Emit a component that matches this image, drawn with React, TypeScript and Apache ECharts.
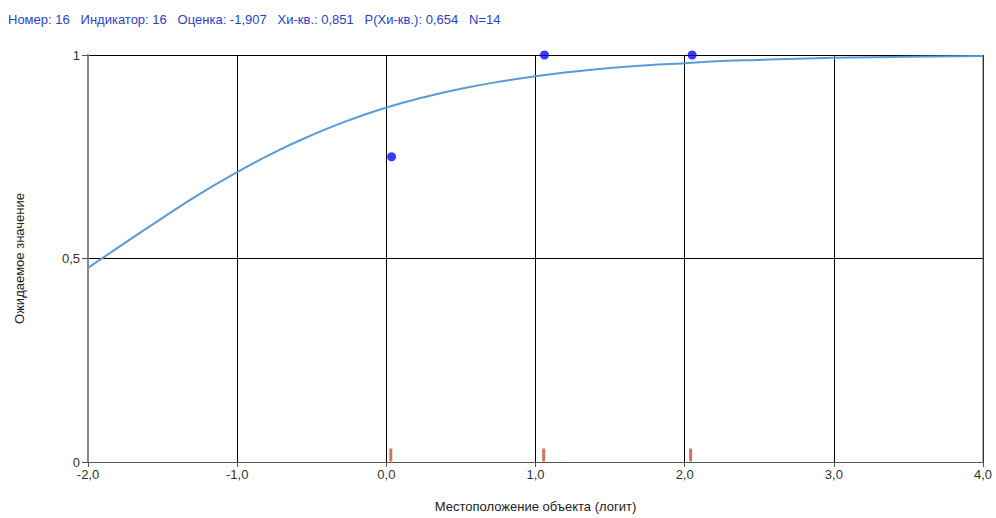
import React, { useEffect, useRef } from "react";
import * as echarts from "echarts";

const curveX = [-2, -1.75, -1.5, -1.25, -1, -0.75, -0.5, -0.25, 0, 0.25, 0.5, 0.75, 1, 1.25, 1.5, 1.75, 2, 2.25, 2.5, 2.75, 3, 3.5, 4];
const curveY = [0.477, 0.539, 0.6, 0.659, 0.712, 0.761, 0.803, 0.84, 0.871, 0.896, 0.917, 0.934, 0.948, 0.959, 0.968, 0.975, 0.98, 0.985, 0.988, 0.991, 0.993, 0.9955, 0.9973];
const obsX = [0.035, 1.06, 2.05];
const obsY = [0.75, 1.0, 1.0];
const tickMarksX = [0.03, 1.055, 2.04];
const titleText = "Номер: 16   Индикатор: 16   Оценка: -1,907   Хи-кв.: 0,851   P(Хи-кв.): 0,654   N=14";

export default function App() {
  const ref = useRef<HTMLDivElement>(null);
  useEffect(() => {
    const chart = echarts.init(ref.current!, null, { renderer: "svg" });
    const font = "Liberation Sans, Arial, sans-serif";
    chart.setOption({
      animation: false,
      textStyle: { fontFamily: font },
      title: {
        text: titleText,
        left: 3,
        top: 8,
        textStyle: { fontSize: 13, fontWeight: "normal", color: "#2b3fc4", fontFamily: font },
      },
      grid: { left: 88, right: 13, top: 55, bottom: 56 },
      xAxis: {
        type: "value",
        min: -2,
        max: 4,
        interval: 1,
        name: "Местоположение объекта (логит)",
        nameLocation: "middle",
        nameGap: 38,
        nameTextStyle: { fontSize: 13, color: "#222", fontFamily: font },
        axisLine: { show: true, onZero: false, lineStyle: { color: "#555", width: 1 } },
        axisTick: { show: true, length: 5, lineStyle: { color: "#555" } },
        axisLabel: {
          fontSize: 13,
          color: "#333",
          margin: 6,
          formatter: (v: number) => v.toFixed(1).replace(".", ","),
        },
        splitLine: { show: true, lineStyle: { color: "#000", width: 1 } },
      },
      yAxis: {
        type: "value",
        min: 0,
        max: 1,
        interval: 0.5,
        name: "Ожидаемое значение",
        nameLocation: "middle",
        nameGap: 62,
        nameTextStyle: { fontSize: 13, color: "#222", fontFamily: font },
        axisLine: { show: true, onZero: false, lineStyle: { color: "#888", width: 2 } },
        axisTick: { show: true, length: 6, lineStyle: { color: "#555" } },
        axisLabel: {
          fontSize: 13,
          color: "#333",
          margin: 8,
          formatter: (v: number) => (v === 0 || v === 1 ? String(v) : String(v).replace(".", ",")),
        },
        splitLine: { show: true, lineStyle: { color: "#000", width: 1 } },
      },
      series: [
        {
          type: "line",
          data: curveX.map((x, i) => [x, curveY[i]]),
          smooth: true,
          showSymbol: false,
          lineStyle: { color: "#5b9bd5", width: 2 },
          z: 3,
        },
        {
          type: "scatter",
          data: obsX.map((x, i) => [x, obsY[i]]),
          symbol: "circle",
          symbolSize: 9,
          itemStyle: { color: "#0a0af0" },
          z: 4,
        },
        {
          type: "scatter",
          data: tickMarksX.map((x) => [x, 0]),
          symbol: "rect",
          symbolSize: [3, 13],
          symbolOffset: [0, -7],
          itemStyle: { color: "#d0502a" },
          z: 4,
        },
        {
          type: "line",
          data: [[4, 0], [4, 1]],
          showSymbol: false,
          lineStyle: { color: "#666", width: 1 },
          silent: true,
          z: 2,
        },
      ],
    });
    return () => chart.dispose();
  }, []);
  return <div ref={ref} style={{ width: 996, height: 518, position: "absolute", left: 0, top: 0, background: "#fff" }} />;
}
